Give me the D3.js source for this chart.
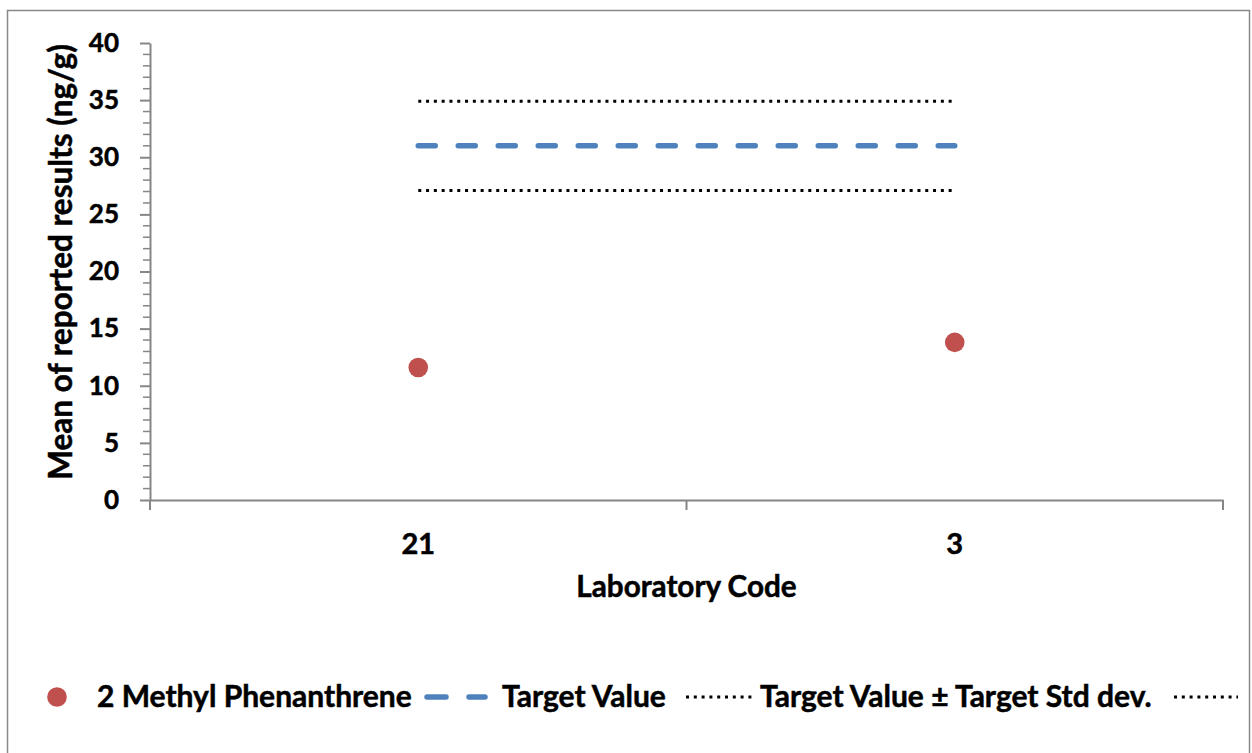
<!DOCTYPE html>
<html><head><meta charset="utf-8">
<script src="https://cdn.jsdelivr.net/npm/d3@7"></script>
<style>body{margin:0;background:#fff}svg{display:block}text{font-family:Lato,"Open Sans",sans-serif;font-weight:bold;fill:#000;stroke:#000;stroke-width:0.5px}</style>
</head><body>
<script>
const categories = ["21", "3"];
const seriesName = "2 Methyl Phenanthrene";
const values = [11.6, 13.8];
const targetValue = 31;
const targetStd = 3.9;
const yTicks = [0, 5, 10, 15, 20, 25, 30, 35, 40];
const legendLabels = ["2 Methyl Phenanthrene", "Target Value", "Target Value \u00B1 Target Std dev.", ""];

(function () {
const W = 1252, H = 753;
const svg = d3.select("body").append("svg").attr("width", W).attr("height", H);
svg.append("rect").attr("x", 7.5).attr("y", 10.5).attr("width", 1242).attr("height", 760)
  .attr("fill", "#fff").attr("stroke", "#898989").attr("stroke-width", 1.5);

const pl = 150, pr = 1223, pt = 43, pb = 500;
const x = d3.scaleBand().domain(categories).range([pl, pr]).padding(0);
const y = d3.scaleLinear().domain([0, 40]).range([pb, pt]);
const cx = c => x(c) + x.bandwidth() / 2;
const axisColor = "#868686";

// y axis
const yAxis = svg.append("g").attr("transform", `translate(${pl},0)`)
  .call(d3.axisLeft(y).tickValues(yTicks).tickSize(10).tickSizeOuter(0).tickFormat(d3.format("d")).tickPadding(21));
yAxis.select(".domain").attr("stroke", axisColor).attr("stroke-width", 2);
yAxis.selectAll(".tick line").attr("stroke", axisColor).attr("stroke-width", 2);
yAxis.selectAll(".tick text").attr("font-size", 26).style("font-family", "Lato").style("font-weight", "bold").attr("fill", "#000");
const minor = d3.range(0, 41, 1).filter(v => v % 5 !== 0);
svg.append("g").selectAll("line").data(minor).join("line")
  .attr("x1", pl - 7).attr("x2", pl).attr("y1", d => y(d)).attr("y2", d => y(d))
  .attr("stroke", axisColor).attr("stroke-width", 1.5);

// x axis
const xAxis = svg.append("g").attr("transform", `translate(0,${pb})`)
  .call(d3.axisBottom(x).tickSize(0).tickPadding(33));
xAxis.select(".domain").attr("stroke", axisColor).attr("stroke-width", 2);
xAxis.selectAll(".tick text").attr("font-size", 29).style("font-family", "Lato").style("font-weight", "bold").attr("fill", "#000");
const bounds = [pl, x(categories[1]), pr];
svg.append("g").selectAll("line").data(bounds).join("line")
  .attr("x1", d => d).attr("x2", d => d).attr("y1", pb).attr("y2", pb + 10)
  .attr("stroke", axisColor).attr("stroke-width", 2);

// titles
svg.append("text").attr("transform", `translate(72,262) rotate(-90)`)
  .attr("text-anchor", "middle").attr("font-size", 31.5).text("Mean of reported results (ng/g)");
svg.append("text").attr("x", (pl + pr) / 2).attr("y", 597).attr("text-anchor", "middle")
  .attr("font-size", 29.7).text("Laboratory Code");

// reference lines
const line = d3.line().x(d => cx(d.c)).y(d => y(d.v));
const mk = v => categories.map(c => ({c, v}));
svg.append("path").attr("d", line(mk(targetValue + targetStd))).attr("fill", "none")
  .attr("stroke", "#000").attr("stroke-width", 3).attr("stroke-dasharray", "3,4.8");
svg.append("path").attr("d", line(mk(targetValue - targetStd))).attr("fill", "none")
  .attr("stroke", "#000").attr("stroke-width", 3).attr("stroke-dasharray", "3,4.8");
svg.append("path").attr("d", line(mk(targetValue))).attr("fill", "none")
  .attr("stroke", "#4f81bd").attr("stroke-width", 5.5).attr("stroke-linecap", "round")
  .attr("stroke-dasharray", "17,23");

// points
svg.append("g").selectAll("circle").data(values).join("circle")
  .attr("cx", (d, i) => cx(categories[i])).attr("cy", d => y(d)).attr("r", 9.8)
  .attr("fill", "#c0504d");

// legend
const ly = 697, lfs = 30;
const lg = svg.append("g");
lg.append("circle").attr("cx", 57).attr("cy", ly).attr("r", 9.8).attr("fill", "#c0504d");
lg.append("text").attr("x", 97).attr("y", ly + 10).attr("font-size", lfs).text(legendLabels[0]);
lg.append("line").attr("x1", 427).attr("x2", 485).attr("y1", ly).attr("y2", ly)
  .attr("stroke", "#4f81bd").attr("stroke-width", 5.5).attr("stroke-linecap", "round").attr("stroke-dasharray", "19,23");
lg.append("text").attr("x", 502).attr("y", ly + 10).attr("font-size", lfs).text(legendLabels[1]);
lg.append("line").attr("x1", 686).attr("x2", 752).attr("y1", ly).attr("y2", ly)
  .attr("stroke", "#000").attr("stroke-width", 3).attr("stroke-dasharray", "3,4.8");
lg.append("text").attr("x", 760).attr("y", ly + 10).attr("font-size", lfs).text(legendLabels[2]);
lg.append("line").attr("x1", 1174).attr("x2", 1238).attr("y1", ly).attr("y2", ly)
  .attr("stroke", "#000").attr("stroke-width", 3).attr("stroke-dasharray", "3,4.8");
})();
</script>
</body></html>
